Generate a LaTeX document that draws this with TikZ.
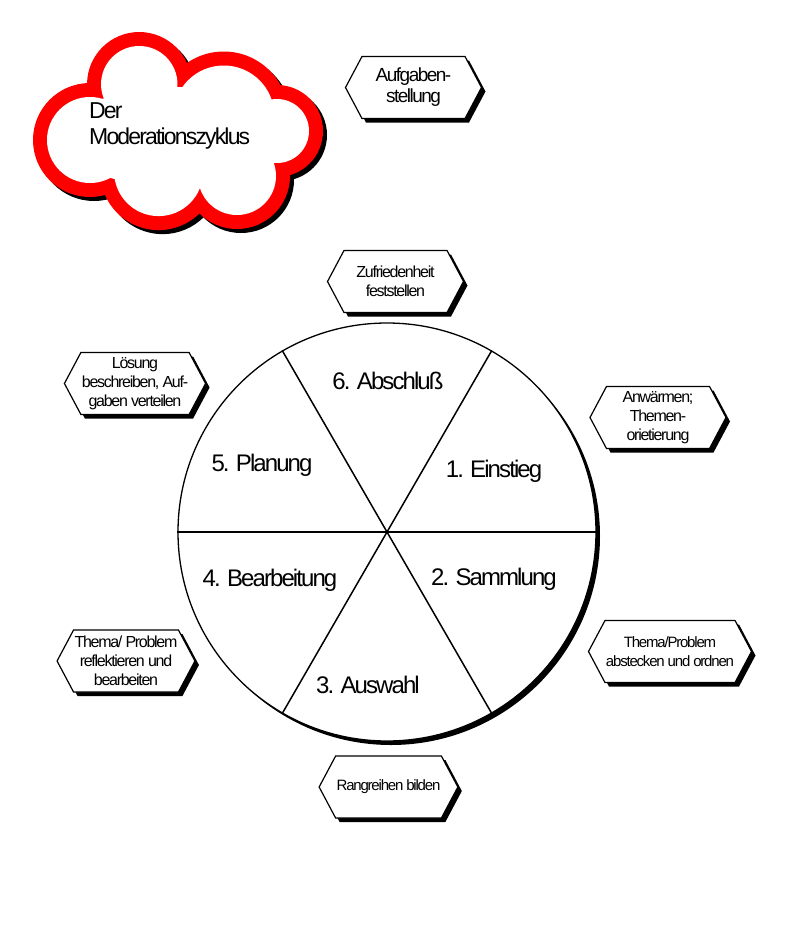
\documentclass[tikz,border=0pt]{standalone}
\usepackage{fontspec}
\setmainfont{Liberation Sans}[LetterSpace=-8]
\usetikzlibrary{shapes.symbols,shadows}
\newcommand{\cyclefont}{\fontsize{24}{28}\selectfont}
\newcommand{\hexfontbig}{\fontsize{19}{21}\selectfont}
\newcommand{\hexfontsmall}{\fontsize{16}{19}\selectfont}
\newcommand{\hexfonttiny}{\fontsize{15}{18.5}\selectfont}
\tikzset{
  hexbox/.style={signal, signal to=west and east, signal pointer angle=124,
    draw, line width=1.2pt, fill=white, minimum width=136pt, minimum height=62pt,
    inner sep=1pt, align=center, font=\hexfontsmall,
    drop shadow={shadow xshift=4pt, shadow yshift=-4pt, opacity=1, fill=black}},
  seglabel/.style={font=\cyclefont, inner sep=0pt},
  spoke/.style={line width=1.5pt},
  cloudtext/.style={font=\fontsize{23}{26}\selectfont, anchor=base west, inner sep=0pt}
}
\begin{document}
\begin{tikzpicture}[x=1pt,y=-1pt]
\useasboundingbox (0,0) rectangle (785,943);
% cloud
\def\cloudlist{90/140/57, 139.25/84.2/52.2, 223.8/116.1/64.6, 277/131/46, 237/176/53, 158.6/171.6/58.5}
\foreach \cx/\cy/\cr in \cloudlist { \fill[black] (\cx+4,\cy+4) circle[radius=\cr pt]; }
\foreach \cx/\cy/\cr in \cloudlist { \fill[red] (\cx,\cy) circle[radius=\cr pt]; }
\foreach \cx/\cy/\cr in \cloudlist { \fill[white] (\cx,\cy) circle[radius=\cr pt - 14pt]; }
\fill[white] (175,137) ellipse[x radius=112pt, y radius=50pt];
\node[cloudtext] (der) at (89,118) {Der};
\node[cloudtext] (mz) at (89,144) {Moderationszyklus};
% circle
\node[circle, draw, line width=1.3pt, minimum size=418pt, inner sep=0pt, fill=white,
  drop shadow={shadow xshift=4pt, shadow yshift=-4pt, opacity=1, fill=black}] (C) at (387,532) {};
\draw[spoke] (C.180) -- (C.0);
\draw[spoke] (C.60) -- (C.240);
\draw[spoke] (C.120) -- (C.300);
\node[seglabel] (s1) at (494,471) {1. Einstieg};
\node[seglabel] (s2) at (494,579) {2. Sammlung};
\node[seglabel] (s3) at (368,685) {3. Auswahl};
\node[seglabel] (s4) at (270,580) {4. Bearbeitung};
\node[seglabel] (s5) at (262,465) {5. Planung};
\node[seglabel] (s6) at (388,381) {6. Abschluß};
% hexagons
\node[hexbox, font=\hexfontbig] (h0) at (413.5,87.5) {Aufgaben-\\stellung};
\node[hexbox] (h6) at (395.5,281.5) {Zufriedenheit\\feststellen};
\node[hexbox] (h5) at (135,383.5) {Lösung\\beschreiben, Auf-\\gaben verteilen};
\node[hexbox] (h1) at (658,417.5) {Anwärmen;\\Themen-\\orietierung};
\node[hexbox] (h4) at (126,661) {Thema/ Problem\\reflektieren und\\bearbeiten};
\node[hexbox, font=\hexfonttiny] (h2) at (670,651.5) {Thema/Problem\\abstecken und ordnen};
\node[hexbox, font=\hexfonttiny] (h3) at (388.5,787) {Rangreihen bilden};
\end{tikzpicture}
\end{document}
